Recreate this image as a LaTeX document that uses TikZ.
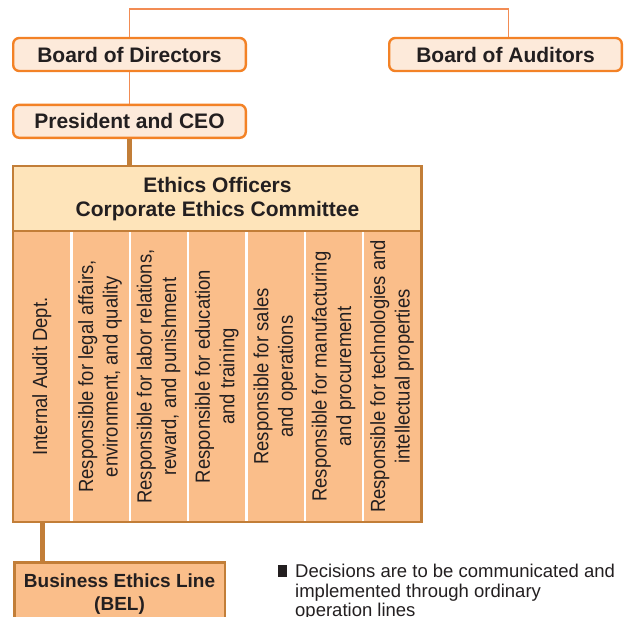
\documentclass[tikz,border=0pt]{standalone}
\usepackage{fontspec}
\setmainfont{Liberation Sans}
\newfontfamily\condfont[FakeStretch=0.9]{Liberation Sans}
\usetikzlibrary{positioning}
\definecolor{lineorange}{RGB}{242,140,84}
\definecolor{boxorange}{RGB}{243,130,38}
\definecolor{boxpeach}{RGB}{253,234,218}
\definecolor{officebrown}{RGB}{194,126,56}
\definecolor{officefill}{RGB}{254,228,186}
\definecolor{dutyfill}{RGB}{250,190,138}
\definecolor{inkgray}{RGB}{35,31,32}
\newcommand{\dutytext}[1]{\rotatebox{90}{\begin{tabular}{@{}c@{}}#1\end{tabular}}}

\begin{document}
\begin{tikzpicture}[x=1pt,y=-1pt,
        topbox/.style={rectangle, draw=boxorange, line width=2.4pt, rounded corners=6pt, fill=boxpeach, minimum width=232.6pt, minimum height=33pt, inner sep=0pt, font=\fontsize{21}{24}\selectfont\bfseries, text=inkgray},
        ethicsbox/.style={rectangle, fill=officefill, minimum width=408.5pt, minimum height=64.75pt, inner sep=0pt, align=center, font=\fontsize{21}{24}\selectfont\bfseries, text=inkgray},
        dutybox/.style={rectangle, fill=dutyfill, minimum width=58.36pt, minimum height=290.75pt, inner sep=0pt, outer sep=0pt, font=\condfont\fontsize{20.5}{24.5}\selectfont, text=inkgray},
        belbox/.style={rectangle, draw=officebrown, line width=2.5pt, fill=dutyfill, minimum width=210.5pt, minimum height=63pt, inner sep=0pt, align=center, font=\fontsize{19}{23}\selectfont\bfseries, text=inkgray},
        thinline/.style={draw=lineorange, line width=1.5pt},
        thickline/.style={draw=officebrown, line width=5pt},
        officeline/.style={draw=officebrown, line width=2.5pt},
        divider/.style={draw=white, line width=2.5pt},
        note/.style={align=left, inner sep=0pt, anchor=north west, font=\fontsize{18.5}{19.5}\selectfont, text=inkgray},
      ]
      \clip (0,0) rectangle (624,616);
      \node [topbox] (bod) at (129.5,54.5) {Board of Directors};
      \node [topbox] (boa) at (505.5,54.5) {Board of Auditors};
      \node [topbox, below=31.4pt of bod] (ceo) {President and CEO};
      \node [ethicsbox] (eth) at (217.5,198.6) {Ethics Officers\\Corporate Ethics Committee};
      % duty columns below the committee
      \node [dutybox, anchor=north west] (c1) at (eth.south west) {\dutytext{Internal Audit Dept.}};
      \node [dutybox, right=0pt of c1] (c2) {\dutytext{Responsible for legal affairs,\\environment, and quality}};
      \node [dutybox, right=0pt of c2] (c3) {\dutytext{Responsible for labor relations,\\reward, and punishment}};
      \node [dutybox, right=0pt of c3] (c4) {\dutytext{Responsible for education\\and training}};
      \node [dutybox, right=0pt of c4] (c5) {\dutytext{Responsible for sales\\and operations}};
      \node [dutybox, right=0pt of c5] (c6) {\dutytext{Responsible for manufacturing\\and procurement}};
      \node [dutybox, right=0pt of c6] (c7) {\dutytext{Responsible for technologies and\\intellectual properties}};
      \node [belbox, below right=39.5pt and 0pt of c1.south west, anchor=north west] (bel) {Business Ethics Line\\(BEL)};
      \node [fill=inkgray, minimum width=9pt, minimum height=12pt, inner sep=0pt] (bullet) at (282.5,571) {};
      \node [note] (decide) at (295,564) {Decisions are to be communicated and\\implemented through ordinary\\operation lines};
      % connectors
      \draw [thinline] (bod.north) -- ++(0,-28) -| ([xshift=3pt]boa.north);
      \draw [thinline] (bod.south) -- (ceo.north);
      \draw [thickline] (ceo.south) -- (ceo.south |- eth.north);
      \draw [divider] (c1.north east) -- (c1.south east);
      \draw [divider] (c2.north east) -- (c2.south east);
      \draw [divider] (c3.north east) -- (c3.south east);
      \draw [divider] (c4.north east) -- (c4.south east);
      \draw [divider] (c5.north east) -- (c5.south east);
      \draw [divider] (c6.north east) -- (c6.south east);
      \draw [officeline] (eth.north west) rectangle (c7.south east);
      \draw [officeline] (eth.south west) -- (eth.south east);
      \draw [thickline] (c1.south) -- (c1.south |- bel.north);
    \end{tikzpicture}
\end{document}
